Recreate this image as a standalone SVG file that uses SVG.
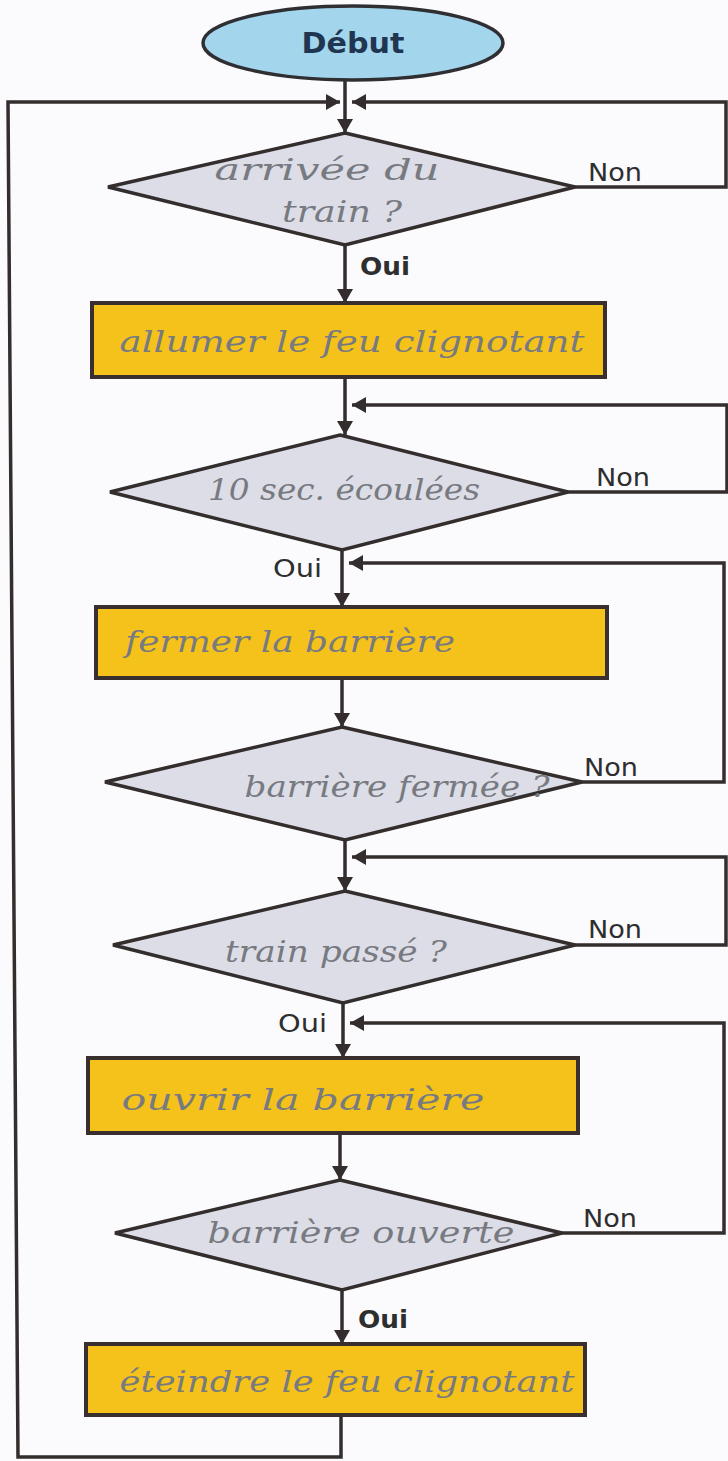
<svg xmlns="http://www.w3.org/2000/svg" width="728" height="1461" viewBox="0 0 728 1461">
<defs>
<marker id="ah" viewBox="0 0 14 16" refX="14" refY="8" markerWidth="14" markerHeight="16" markerUnits="userSpaceOnUse" orient="auto">
<path d="M0,0 L14,8 L0,16 Z" fill="#332d2d"/>
</marker>
</defs>
<style>
.bg{fill:#fbfbfd}
.ln{fill:none;stroke:#332d2d;stroke-width:3.5}
.dia{fill:#dcdde6;stroke:#332d2d;stroke-width:3.5}
.box{fill:#f5c21b;stroke:#3a2f2f;stroke-width:4}
.hand{font-family:"DejaVu Serif","Liberation Serif",serif;font-style:italic;fill:#777a80;font-size:30px}
.lbl{font-family:"DejaVu Sans","Liberation Sans",sans-serif;fill:#2e2e2e;font-size:24px}
.start{fill:#a3d6ec;stroke:#2f2f33;stroke-width:3.5}
.st{font-family:"DejaVu Sans","Liberation Sans",sans-serif;font-weight:bold;fill:#1f3550;font-size:28px}
</style>
<rect class="bg" x="0" y="0" width="728" height="1461"/>

<g id="connectors">
<path class="ln" d="M345,80 L345,133" marker-end="url(#ah)"/>
<path class="ln" d="M341,1415 L341,1457 L18,1457 L8,102 L340,102" marker-end="url(#ah)"/>
<path class="ln" d="M575,187 L726,187 L726,102 L352,102" marker-end="url(#ah)"/>
<path class="ln" d="M345,245 L345,303" marker-end="url(#ah)"/>
<path class="ln" d="M345,377 L345,435" marker-end="url(#ah)"/>
<path class="ln" d="M566,492 L727,492 L727,405 L352,405" marker-end="url(#ah)"/>
<path class="ln" d="M342,550 L342,607" marker-end="url(#ah)"/>
<path class="ln" d="M582,782 L724,782 L724,563 L349,563" marker-end="url(#ah)"/>
<path class="ln" d="M342,678 L342,727" marker-end="url(#ah)"/>
<path class="ln" d="M345,840 L345,891" marker-end="url(#ah)"/>
<path class="ln" d="M575,945 L726,945 L726,857 L352,857" marker-end="url(#ah)"/>
<path class="ln" d="M343,1003 L343,1058" marker-end="url(#ah)"/>
<path class="ln" d="M562,1233 L724,1233 L724,1023 L350,1023" marker-end="url(#ah)"/>
<path class="ln" d="M340,1133 L340,1180" marker-end="url(#ah)"/>
<path class="ln" d="M342,1290 L342,1344" marker-end="url(#ah)"/>
</g>

<g id="start">
<ellipse class="start" cx="353" cy="43" rx="150" ry="37"/>
<text class="st" x="353" y="53" text-anchor="middle" textLength="103" lengthAdjust="spacingAndGlyphs">Début</text>
</g>

<g id="d1">
<polygon class="dia" points="345,133 575,187 345,245 108,187"/>
<text class="hand" x="327" y="180" text-anchor="middle" textLength="225" lengthAdjust="spacingAndGlyphs">arrivée du</text>
<text class="hand" x="342" y="222" text-anchor="middle" textLength="120" lengthAdjust="spacingAndGlyphs">train ?</text>
<text class="lbl" x="588" y="181" textLength="54" lengthAdjust="spacingAndGlyphs">Non</text>
<text class="lbl" x="360" y="275" font-weight="bold" textLength="50" lengthAdjust="spacingAndGlyphs">Oui</text>
</g>

<g id="b1">
<rect class="box" x="92" y="303" width="513" height="74"/>
<text class="hand" x="352" y="352" text-anchor="middle" textLength="465" lengthAdjust="spacingAndGlyphs">allumer le feu clignotant</text>
</g>

<g id="d2">
<polygon class="dia" points="340,435 568,492 342,550 110,492"/>
<text class="hand" x="344" y="500" text-anchor="middle" textLength="272" lengthAdjust="spacingAndGlyphs">10 sec. écoulées</text>
<text class="lbl" x="596" y="486" textLength="54" lengthAdjust="spacingAndGlyphs">Non</text>
<text class="lbl" x="273" y="577" textLength="49" lengthAdjust="spacingAndGlyphs">Oui</text>
</g>

<g id="b2">
<rect class="box" x="96" y="607" width="511" height="71"/>
<text class="hand" x="290" y="652" text-anchor="middle" textLength="330" lengthAdjust="spacingAndGlyphs">fermer la barrière</text>
</g>

<g id="d3">
<polygon class="dia" points="342,727 582,782 345,840 105,782"/>
<text class="hand" x="397" y="797" text-anchor="middle" textLength="305" lengthAdjust="spacingAndGlyphs">barrière fermée ?</text>
<text class="lbl" x="584" y="776" textLength="54" lengthAdjust="spacingAndGlyphs">Non</text>
</g>

<g id="d4">
<polygon class="dia" points="345,891 575,945 343,1003 113,945"/>
<text class="hand" x="336" y="962" text-anchor="middle" textLength="222" lengthAdjust="spacingAndGlyphs">train passé ?</text>
<text class="lbl" x="588" y="938" textLength="54" lengthAdjust="spacingAndGlyphs">Non</text>
<text class="lbl" x="278" y="1032" textLength="49" lengthAdjust="spacingAndGlyphs">Oui</text>
</g>

<g id="b3">
<rect class="box" x="88" y="1058" width="490" height="75"/>
<text class="hand" x="303" y="1110" text-anchor="middle" textLength="363" lengthAdjust="spacingAndGlyphs">ouvrir la barrière</text>
</g>

<g id="d5">
<polygon class="dia" points="340,1180 562,1233 342,1290 115,1233"/>
<text class="hand" x="361" y="1243" text-anchor="middle" textLength="307" lengthAdjust="spacingAndGlyphs">barrière ouverte</text>
<text class="lbl" x="583" y="1227" textLength="54" lengthAdjust="spacingAndGlyphs">Non</text>
<text class="lbl" x="358" y="1328" font-weight="bold" textLength="50" lengthAdjust="spacingAndGlyphs">Oui</text>
</g>

<g id="b4">
<rect class="box" x="86" y="1344" width="499" height="71"/>
<text class="hand" x="347" y="1392" text-anchor="middle" textLength="455" lengthAdjust="spacingAndGlyphs">éteindre le feu clignotant</text>
</g>
</svg>
